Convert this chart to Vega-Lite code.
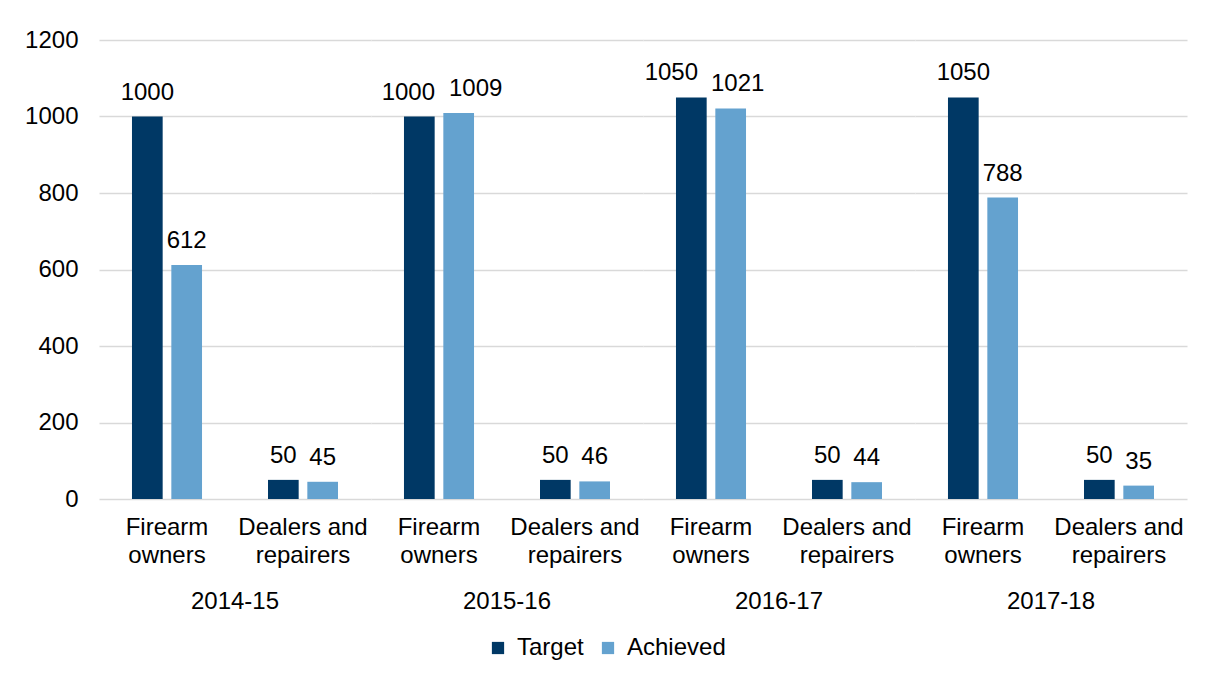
{
  "$schema": "https://vega.github.io/schema/vega-lite/v6.json",
  "padding": {"left": 24, "top": 28, "right": 20, "bottom": 10},
  "data": {"values": [
    {"year": "2014-15", "category": "Firearm owners", "series": "Target", "value": 1000},
    {"year": "2014-15", "category": "Firearm owners", "series": "Achieved", "value": 612},
    {"year": "2014-15", "category": "Dealers and repairers", "series": "Target", "value": 50},
    {"year": "2014-15", "category": "Dealers and repairers", "series": "Achieved", "value": 45},
    {"year": "2015-16", "category": "Firearm owners", "series": "Target", "value": 1000},
    {"year": "2015-16", "category": "Firearm owners", "series": "Achieved", "value": 1009},
    {"year": "2015-16", "category": "Dealers and repairers", "series": "Target", "value": 50},
    {"year": "2015-16", "category": "Dealers and repairers", "series": "Achieved", "value": 46},
    {"year": "2016-17", "category": "Firearm owners", "series": "Target", "value": 1050},
    {"year": "2016-17", "category": "Firearm owners", "series": "Achieved", "value": 1021},
    {"year": "2016-17", "category": "Dealers and repairers", "series": "Target", "value": 50},
    {"year": "2016-17", "category": "Dealers and repairers", "series": "Achieved", "value": 44},
    {"year": "2017-18", "category": "Firearm owners", "series": "Target", "value": 1050},
    {"year": "2017-18", "category": "Firearm owners", "series": "Achieved", "value": 788},
    {"year": "2017-18", "category": "Dealers and repairers", "series": "Target", "value": 50},
    {"year": "2017-18", "category": "Dealers and repairers", "series": "Achieved", "value": 35}
  ]},
  "facet": {
    "column": {
      "field": "year", "type": "nominal", "title": null,
      "header": {"labelOrient": "bottom", "labelFontSize": 24, "labelColor": "#000000", "labelPadding": 23}
    }
  },
  "spacing": 0,
  "spec": {
    "width": 272,
    "height": 459,
    "encoding": {
      "x": {
        "field": "category", "type": "nominal", "sort": ["Firearm owners", "Dealers and repairers"], "title": null,
        "scale": {"paddingInner": 0.485, "paddingOuter": 0.2425},
        "axis": {
          "domain": false, "ticks": false, "labelAngle": 0, "labelFontSize": 24, "labelColor": "#000000",
          "labelPadding": 16, "labelLineHeight": 28,
          "labelExpr": "datum.label == 'Firearm owners' ? ['Firearm', 'owners'] : ['Dealers and', 'repairers']"
        }
      },
      "xOffset": {"field": "series", "type": "nominal", "sort": ["Target", "Achieved"], "scale": {"paddingInner": 0.22}},
      "y": {
        "field": "value", "type": "quantitative", "title": null,
        "scale": {"domain": [0, 1200]},
        "axis": {"values": [0, 200, 400, 600, 800, 1000, 1200], "format": "d", "domain": false, "ticks": false, "labelFontSize": 24, "labelColor": "#000000", "labelPadding": 21, "gridColor": "#d9d9d9", "gridWidth": 1.5}
      },
      "color": {
        "field": "series", "type": "nominal", "sort": ["Target", "Achieved"], "title": null,
        "scale": {"domain": ["Target", "Achieved"], "range": ["#003865", "#64a2cf"]},
        "legend": {"orient": "bottom", "direction": "horizontal", "labelFontSize": 24, "labelColor": "#000000", "symbolType": "square", "symbolSize": 150, "symbolStrokeWidth": 0, "columnPadding": 12, "labelOffset": 7, "offset": 22}
      }
    },
    "layer": [
      {"mark": {"type": "bar"}},
      {"mark": {"type": "text", "baseline": "bottom", "dy": -12, "fontSize": 24, "color": "#000000",
        "dx": {"expr": "datum.category == 'Firearm owners' && datum.year == '2015-16' ? (datum.series == 'Target' ? -11 : 17) : (datum.category == 'Firearm owners' && datum.year == '2016-17' ? (datum.series == 'Target' ? -20 : 7) : 0)"}},
        "encoding": {"text": {"field": "value", "type": "quantitative"}, "color": {"value": "#000000"}}}
    ]
  },
  "config": {
    "font": "Liberation Sans",
    "view": {"stroke": null},
    "axisX": {"grid": false},
    "legend": {"layout": {"bottom": {"anchor": "middle"}}}
  }
}
